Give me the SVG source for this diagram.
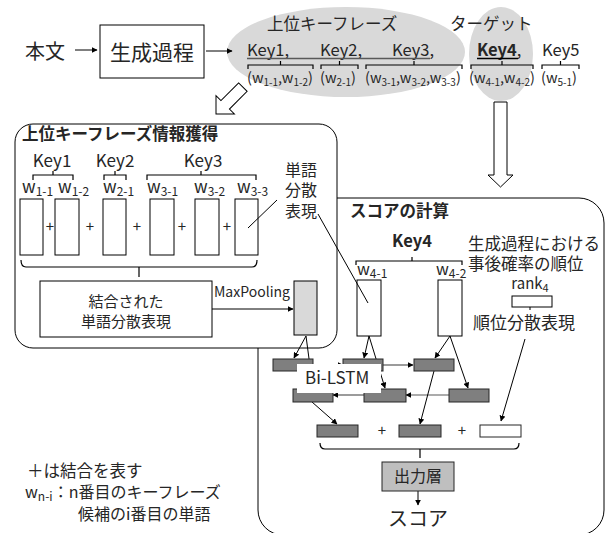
<svg xmlns="http://www.w3.org/2000/svg" width="609" height="533" viewBox="0 0 609 533">
<style>
text{font-family:"Noto Sans CJK JP","Noto Sans",sans-serif;fill:#262626}
.ln{stroke:#000;stroke-width:1;fill:none}
.br{stroke:#000;stroke-width:1.2;fill:none}
.box{fill:#fff;stroke:#000;stroke-width:1}
.dk{fill:#7f7f7f;stroke:#262626;stroke-width:1}
.wh{fill:#fff;stroke:#262626;stroke-width:1}
.arr{stroke:#000;stroke-width:1;fill:none;marker-end:url(#ah)}
.garr{stroke:#595959;stroke-width:1.2;fill:none;marker-end:url(#ah)}
.t15{font-size:15px}
.t17{font-size:17px}
.sub{font-size:10px}
</style>
<defs>
<marker id="ah" viewBox="0 0 10 10" refX="9" refY="5" markerWidth="6" markerHeight="6" orient="auto" markerUnits="userSpaceOnUse"><path d="M0,0 L10,5 L0,10 z" fill="#000"/></marker>
</defs>

<!-- top row -->
<g id="ellipses">
<ellipse cx="346" cy="52" rx="119" ry="45" fill="#d9d9d9"/>
<ellipse cx="501" cy="54" rx="32" ry="47" fill="#d9d9d9"/>
</g>
<g id="honbun"><text x="25" y="59" font-size="20">本文</text></g>
<g id="seisei">
<rect x="100" y="25" width="104" height="53" class="box"/>
<text x="152" y="60" font-size="21" text-anchor="middle">生成過程</text>
</g>
<g id="keyphrases">
<text x="267" y="30" font-size="16.5">上位キーフレーズ</text>
<text x="450" y="30" font-size="16.5">ターゲット</text>
<text x="247" y="56" font-size="16.5">Key1,</text>
<text x="320" y="56" font-size="16.5">Key2,</text>
<text x="392" y="56" font-size="16.5">Key3,</text>
<text x="477" y="56" font-size="16.5" font-weight="bold">Key4<tspan font-weight="normal">,</tspan></text>
<text x="542" y="56" font-size="16.5">Key5</text>
<path d="M247,58.5 H430" stroke="#595959" stroke-width="1.5"/>
<path d="M477,58.5 H518" stroke="#000" stroke-width="1.5"/>
<text x="247" y="83" font-size="14.5">(w<tspan class="sub" dy="3">1-1</tspan><tspan dy="-3">,w</tspan><tspan class="sub" dy="3">1-2</tspan><tspan dy="-3">)</tspan></text>
<text x="320" y="83" font-size="14.5">(w<tspan class="sub" dy="3">2-1</tspan><tspan dy="-3">)</tspan></text>
<text x="365" y="83" font-size="14.5">(w<tspan class="sub" dy="3">3-1</tspan><tspan dy="-3">,w</tspan><tspan class="sub" dy="3">3-2</tspan><tspan dy="-3">,w</tspan><tspan class="sub" dy="3">3-3</tspan><tspan dy="-3">)</tspan></text>
<text x="469" y="83" font-size="14.5">(w<tspan class="sub" dy="3">4-1</tspan><tspan dy="-3">,w</tspan><tspan class="sub" dy="3">4-2</tspan><tspan dy="-3">)</tspan></text>
<text x="541" y="83" font-size="14.5">(w<tspan class="sub" dy="3">5-1</tspan><tspan dy="-3">)</tspan></text>
<path class="br" d="M248,69 V65 H313 V69 M280.5,65 V61 M321,69 V65 H358 V69 M339.5,65 V61 M366,69 V65 H462 V69 M414,65 V61 M471,69 V65 H533 V69 M502,65 V61 M542,69 V65 H579 V69 M560.5,65 V61"/>
</g>

<!-- right panel -->
<g id="score-panel">
<rect x="258" y="198" width="346" height="337" rx="25" fill="#fff" stroke="#000" stroke-width="1"/>
<text x="350" y="217" font-size="16.5" font-weight="bold">スコアの計算</text>
</g>

<!-- left panel -->
<g id="upper-panel">
<rect x="15" y="124" width="322" height="224" rx="18" fill="#fff" stroke="#000" stroke-width="1"/>
<text x="22" y="140" font-size="16.5" font-weight="bold">上位キーフレーズ情報獲得</text>
<text x="52" y="167" font-size="17" text-anchor="middle">Key1</text>
<text x="115" y="167" font-size="17" text-anchor="middle">Key2</text>
<text x="203" y="167" font-size="17" text-anchor="middle">Key3</text>
<path class="br" d="M33,180 V175 H73 V180 M53,175 V171 M104,180 V175 H126 V180 M115,175 V171 M147,180 V175 H256 V180 M201,175 V171"/>
<g font-size="17">
<text x="22" y="193">w<tspan font-size="12" dy="3">1-1</tspan></text>
<text x="58" y="193">w<tspan font-size="12" dy="3">1-2</tspan></text>
<text x="103" y="193">w<tspan font-size="12" dy="3">2-1</tspan></text>
<text x="147" y="193">w<tspan font-size="12" dy="3">3-1</tspan></text>
<text x="194" y="193">w<tspan font-size="12" dy="3">3-2</tspan></text>
<text x="237" y="193">w<tspan font-size="12" dy="3">3-3</tspan></text>
</g>
<rect x="20" y="199" width="23" height="56" class="box"/>
<rect x="55" y="199" width="24" height="56" class="box"/>
<rect x="103" y="199" width="23" height="56" class="box"/>
<rect x="150" y="199" width="24" height="56" class="box"/>
<rect x="195" y="199" width="24" height="56" class="box"/>
<rect x="235" y="199" width="23" height="56" class="box"/>
<g font-size="15" text-anchor="middle" fill="#404040">
<text x="50" y="232">+</text>
<text x="90" y="232">+</text>
<text x="137" y="232">+</text>
<text x="182" y="232">+</text>
<text x="227" y="232">+</text>
</g>
<path class="br" d="M21,260 Q21,267 26,267 H252 Q257,267 257,260 M139,267 V277"/>
<rect x="40" y="281" width="172" height="56" class="box"/>
<text x="126" y="307" class="t15" text-anchor="middle">結合された</text>
<text x="126" y="327" class="t15" text-anchor="middle">単語分散表現</text>
<text x="214" y="297" font-size="14">MaxPooling</text>
<rect x="294" y="281" width="23" height="54" fill="#d9d9d9" stroke="#000" stroke-width="1"/>
</g>
<g id="label-tango">
<text x="285" y="176" font-size="16">単語</text>
<text x="285" y="196" font-size="16">分散</text>
<text x="285" y="217" font-size="16">表現</text>
</g>

<!-- right panel contents -->
<g id="key4">
<text x="412" y="247" font-size="16.5" font-weight="bold" text-anchor="middle">Key4</text>
<path class="br" d="M356,265 V261 H462 V265 M412,261 V257"/>
<text x="357" y="275" font-size="16">w<tspan font-size="12" dy="3">4-1</tspan></text>
<text x="436" y="275" font-size="16">w<tspan font-size="12" dy="3">4-2</tspan></text>
<rect x="357" y="280" width="24" height="56" class="box"/>
<rect x="438" y="280" width="24" height="56" class="box"/>
</g>
<g id="rank">
<text x="468" y="250" font-size="16.5">生成過程における</text>
<text x="468" y="270" font-size="16.5">事後確率の順位</text>
<text x="530" y="289" class="t15" text-anchor="middle">rank<tspan font-size="11" dy="3">4</tspan></text>
<rect x="512" y="296" width="40" height="11" class="box"/>
<path class="ln" d="M530,307 V310"/>
<text x="473" y="329" font-size="17">順位分散表現</text>
</g>

<g id="connectors">
<path class="ln" d="M277,200 L248,228"/>
<path class="ln" d="M318,214 L368,303"/>
<path class="arr" d="M75,50 H97"/>
<path class="arr" d="M206,51 H232"/>
<path class="arr" d="M212,309 H293"/>
<path class="arr" d="M306,336 L294,358"/>
<path class="arr" d="M306,336 L313,389"/>
<path class="arr" d="M369,336 L364,358"/>
<path class="arr" d="M369,336 L385,388"/>
<path class="arr" d="M450,336 L435,358"/>
<path class="arr" d="M450,336 L468,388"/>
<path class="garr" d="M313,365 H343"/>
<path class="garr" d="M383,365 H413"/>
<path class="garr" d="M449,395 H406"/>
<path class="garr" d="M364,395 H333"/>
<path class="arr" d="M312,402 L337,424"/>
<path class="arr" d="M434,371 L420,424"/>
<path class="arr" d="M525,339 L501,421"/>
<path class="arr" d="M418,491 V505"/>
</g>

<g id="lstm">
<rect x="273" y="359" width="40" height="12" class="dk"/>
<rect x="343" y="359" width="40" height="12" class="dk"/>
<rect x="414" y="359" width="40" height="12" class="dk"/>
<rect x="293" y="389" width="40" height="13" class="dk"/>
<rect x="364" y="389" width="42" height="13" class="dk"/>
<rect x="449" y="389" width="40" height="13" class="dk"/>
<rect x="297" y="364" width="84" height="29" fill="#fff"/>
<text x="305" y="384" font-size="17" fill="#404040">Bi-LSTM</text>
</g>

<g id="concat">
<rect x="317" y="425" width="41" height="12" class="dk"/>
<rect x="399" y="425" width="42" height="12" class="dk"/>
<rect x="480" y="425" width="41" height="12" class="wh"/>
<text x="382" y="436" class="t15" text-anchor="middle" fill="#595959">+</text>
<text x="462" y="436" class="t15" text-anchor="middle" fill="#595959">+</text>
<path class="br" d="M320,443 Q320,449 325,449 H514 Q519,449 519,443 M420,449 V458" stroke="#595959"/>
</g>

<g id="output">
<rect x="382" y="462" width="72" height="29" fill="#bfbfbf" stroke="#262626" stroke-width="1"/>
<text x="418" y="482" font-size="16" text-anchor="middle" fill="#404040">出力層</text>
<text x="418" y="526" font-size="20" text-anchor="middle">スコア</text>
</g>

<g id="hollow-arrows">
<polygon points="0,0 -13,-13 -6,-13 -6,-38 6,-38 6,-13 13,-13" transform="translate(216,114) rotate(45)" fill="#fff" stroke="#000" stroke-width="1"/>
<polygon points="494,102 507,102 507,175 513,175 500.5,187 488,175 494,175" fill="#fff" stroke="#000" stroke-width="1"/>
</g>

<g id="legend">
<text x="27" y="477" font-size="16.5">＋は結合を表す</text>
<text x="25" y="498" font-size="16">w<tspan font-size="12" dy="3">n-i</tspan><tspan dy="-3">：n番目のキーフレーズ</tspan></text>
<text x="78" y="520" font-size="16">候補のi番目の単語</text>
</g>
</svg>
